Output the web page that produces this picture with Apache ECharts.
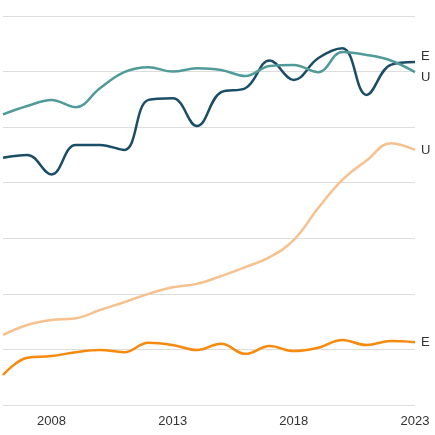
<!DOCTYPE html>
<html><head><meta charset="utf-8">
<script src="https://cdn.jsdelivr.net/npm/echarts@6/dist/echarts.min.js"></script>
<style>html,body{margin:0;padding:0}#main{width:435px;height:435px}</style>
</head><body><div id="main"></div>
<script>
var years = [2006,2007,2008,2009,2010,2011,2012,2013,2014,2015,2016,2017,2018,2019,2020,2021,2022,2023];
var names = ['E', 'U', 'U', 'E'];
var colors = ['#1b4d66', '#509a9a', '#f6c18f', '#f78a0d'];
var darkTeal = [44.5,45,41.5,46.8,46.8,45.9,54.9,55.2,50.2,56.3,57,62,58.5,62.4,64.2,55.8,61.2,61.7];
var lightTeal = [52.3,53.8,54.9,53.6,57,59.9,60.8,60,60.6,60.3,59.2,61,61.2,59.9,63.5,63,62,59.9];
var lightOrange = [12.6,14.4,15.3,15.6,17.1,18.5,20,21.2,21.8,23.2,24.8,26.6,29.7,35.4,40.5,44,47.1,45.9];
var orange = [5.4,8.5,8.8,9.5,9.9,9.5,11.2,10.8,9.9,11,9.2,10.6,9.7,10.3,11.7,10.8,11.5,11.3];
var values = [darkTeal, lightTeal, lightOrange, orange];

var myChart = echarts.init(document.getElementById('main'));
myChart.setOption({
  animation: false,
  grid: {left: -4, right: 20, top: 16, bottom: 30},
  xAxis: {
    type: 'value', min: 2006, max: 2023, interval: 1,
    axisLine: {show: false}, axisTick: {show: false}, splitLine: {show: false},
    axisLabel: {
      color: '#333', fontSize: 13, fontFamily: 'Liberation Sans', margin: 10,
      formatter: function (v) { return (v - 2008) % 5 === 0 ? String(v) : ''; }
    }
  },
  yAxis: {
    type: 'value', min: 0, max: 70, interval: 10,
    axisLabel: {show: false}, axisLine: {show: false}, axisTick: {show: false},
    splitLine: {lineStyle: {color: '#ddd'}}
  },
  series: values.map(function (vals, i) {
    return {
      type: 'line', name: names[i], smooth: 0.4, showSymbol: false,
      data: years.map(function (y, j) { return [y, vals[j]]; }),
      lineStyle: {color: colors[i], width: 2.5}, itemStyle: {color: colors[i]},
      endLabel: {show: true, formatter: '{a}', color: '#333', fontSize: 13, fontFamily: 'Liberation Sans', distance: 6,
        offset: i === 0 ? [0, -6] : (i === 1 ? [0, 5] : [0, 0])}
    };
  })
});
</script></body></html>
